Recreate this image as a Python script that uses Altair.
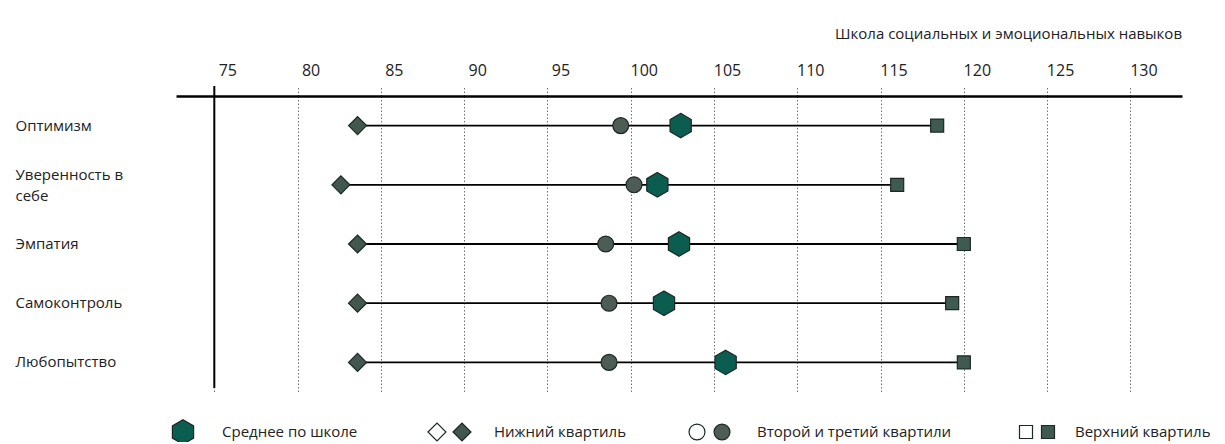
import altair as alt
import pandas as pd

# ---- data ----
skills = ["Оптимизм", "Уверенность в себе", "Эмпатия", "Самоконтроль", "Любопытство"]
lower_q = [83.6, 82.6, 83.6, 83.6, 83.6]       # нижний квартиль
mid_q = [99.4, 100.2, 98.5, 98.7, 98.7]        # второй и третий квартили
school_mean = [103.0, 101.6, 102.9, 102.0, 105.7]  # среднее по школе
upper_q = [118.4, 116.0, 120.0, 119.3, 120.0]  # верхний квартиль
tick_values = [75, 80, 85, 90, 95, 100, 105, 110, 115, 120, 125, 130]
axis_title = "Школа социальных и эмоциональных навыков"

legend_labels = ["Среднее по школе", "Нижний квартиль", "Второй и третий квартили", "Верхний квартиль"]

# ---- styling ----
FONT = "Open Sans"
W, H = 1006, 296
HEX = "M0,-1L0.866,-0.5L0.866,0.5L0,1L-0.866,0.5L-0.866,-0.5Z"
C_MEAN = "#0b5e4f"
C_MID = "#4d5c55"
C_LOW = "#42574e"
C_UP = "#3f5a50"
C_STROKE = "#1b2824"

df = pd.DataFrame({"skill": skills, "lower": lower_q, "mid": mid_q,
                   "mean": school_mean, "upper": upper_q})

xscale = alt.Scale(domain=[72.7, 133.1], nice=False, zero=False)
xaxis = alt.Axis(orient="top", values=tick_values, title=None, grid=True,
                 gridDash=[1.5, 2], gridColor="#707070", gridWidth=1,
                 tickSize=10, tickDash=[1.5, 2], tickColor="#707070",
                 domainColor="black", domainWidth=2.5,
                 labelFontSize=16, labelPadding=8, labelColor="#222",
                 labelFont=FONT, labelOffset=13)
yenc = alt.Y("skill:N", sort=skills, title=None,
             axis=alt.Axis(ticks=False, domain=False, grid=False, labelAlign="left",
                           labelPadding=161, labelFontSize=15, labelColor="#222",
                           labelFont=FONT, labelLineHeight=21,
                           labelOffset={"condition": {"test": "datum.value == 'Уверенность в себе'",
                                                      "value": -10},
                                        "value": 0},
                           labelExpr="datum.value == 'Уверенность в себе' ? ['Уверенность в', 'себе'] : datum.label"))

base = alt.Chart(df)

lines = base.mark_rule(color="black", strokeWidth=1.8).encode(
    x=alt.X("lower:Q", scale=xscale, axis=xaxis), x2="upper:Q", y=yenc)

zero_line = alt.Chart(pd.DataFrame({"v": [tick_values[0]]})).mark_rule(
    color="black", strokeWidth=2).encode(
    x=alt.X("v:Q", scale=xscale, axis=xaxis), y=alt.value(-10), y2=alt.value(H - 4))

low_pts = base.mark_point(shape="diamond", size=324, filled=True, fill=C_LOW,
                          stroke=C_STROKE, strokeWidth=1.2, opacity=1).encode(
    x=alt.X("lower:Q", scale=xscale, axis=xaxis), y=yenc)
mid_pts = base.mark_point(shape="circle", size=254, filled=True, fill=C_MID,
                          stroke=C_STROKE, strokeWidth=1.2, opacity=1).encode(
    x=alt.X("mid:Q", scale=xscale, axis=xaxis), y=yenc)
up_pts = base.mark_point(shape="square", size=169, filled=True, fill=C_UP,
                         stroke=C_STROKE, strokeWidth=1.2, opacity=1).encode(
    x=alt.X("upper:Q", scale=xscale, axis=xaxis), y=yenc)
mean_pts = base.mark_point(shape=HEX, size=600, filled=True, fill=C_MEAN,
                           stroke=C_STROKE, strokeWidth=1.2, opacity=1).encode(
    x=alt.X("mean:Q", scale=xscale, axis=xaxis), y=yenc)

# ---- custom legend (layout offsets in px from plot's left edge) ----
leg_sym = pd.DataFrame({
    "px": [7, 261, 286, 521, 546, 850, 872],
    "shape": [HEX, "diamond", "diamond", "circle", "circle", "square", "square"],
    "fill": [C_MEAN, "white", C_LOW, "white", C_MID, "white", C_UP],
    "size": [600, 324, 324, 254, 254, 169, 169],
})
leg_txt = pd.DataFrame({"px": [46, 318, 581, 899], "label": legend_labels})

legend_symbols = alt.Chart(leg_sym).mark_point(filled=True, stroke=C_STROKE,
                                               strokeWidth=1.2, opacity=1).encode(
    x=alt.X("px:Q", scale=None), y=alt.value(H + 40),
    shape=alt.Shape("shape:N", scale=None),
    fill=alt.Fill("fill:N", scale=None),
    size=alt.Size("size:Q", scale=None))
legend_text = alt.Chart(leg_txt).mark_text(align="left", baseline="middle",
                                           fontSize=15, font=FONT, color="#222").encode(
    x=alt.X("px:Q", scale=None), y=alt.value(H + 40), text="label:N")

chart = alt.layer(lines, zero_line, low_pts, mid_pts, up_pts, mean_pts,
                  legend_symbols, legend_text).properties(
    width=W, height=H, background="white",
    title=alt.Title(axis_title, anchor="end", frame="group", fontSize=15,
                    fontWeight="normal", font=FONT, color="#222", offset=20),
    autosize=alt.AutoSizeParams(type="none"),
    padding={"left": 168, "top": 88, "right": 30, "bottom": 50},
).configure_view(stroke=None)

chart.save("out.html", embed_options={"renderer": "svg", "actions": False})
